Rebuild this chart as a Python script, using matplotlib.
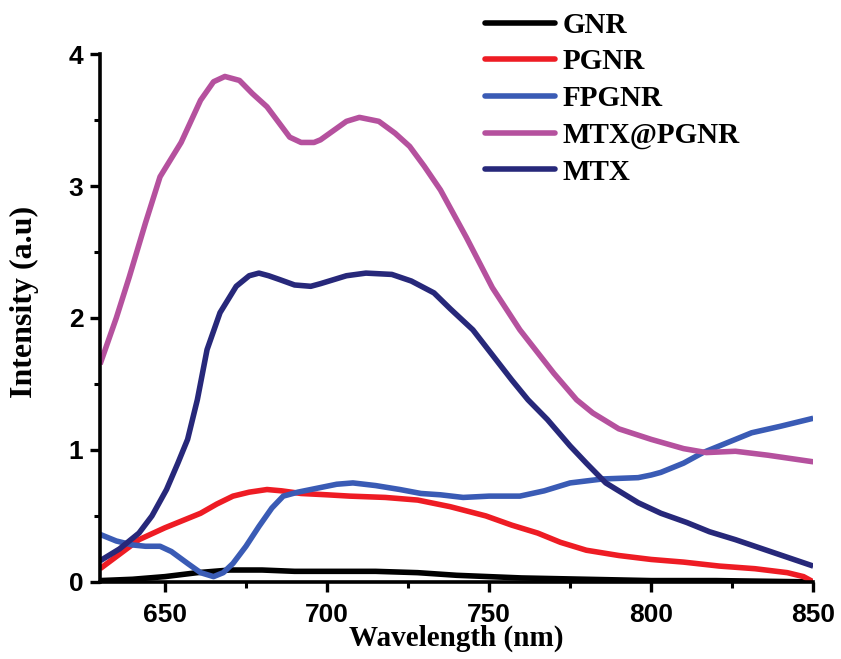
import numpy as np
import matplotlib
matplotlib.use('Agg')
import matplotlib.pyplot as plt
from matplotlib.ticker import MultipleLocator

# Datos (longitud de onda en nm, intensidad en a.u.)
wl_gnr = [630, 640, 650, 660, 670, 680, 690, 700, 715, 728, 740, 760, 780, 800, 820, 850]
int_gnr = [0.01, 0.02, 0.04, 0.07, 0.09, 0.09, 0.08, 0.08, 0.08, 0.07, 0.05, 0.03, 0.02, 0.01, 0.01, 0.0]

wl_pgnr = [630, 636, 642, 650, 655, 661, 666, 671, 676, 681.5, 686, 692, 700, 707, 718, 728,
           738, 749, 757, 765, 772, 780, 790, 800, 810, 821, 832, 842, 847, 850]
int_pgnr = [0.10, 0.21, 0.32, 0.41, 0.46, 0.52, 0.59, 0.65, 0.68, 0.70, 0.69, 0.67, 0.66, 0.65, 0.64, 0.62,
            0.57, 0.50, 0.43, 0.37, 0.30, 0.24, 0.20, 0.17, 0.15, 0.12, 0.10, 0.07, 0.04, 0.0]

wl_fpgnr = [630, 635, 640, 644, 648.5, 652, 657, 661, 665, 668, 671, 675, 679, 683, 686.5, 691,
            697, 703, 708, 715, 722.5, 729, 735, 742, 750, 759.5, 767, 775, 785, 796, 800, 803,
            810, 816, 824, 831, 840, 850]
int_fpgnr = [0.36, 0.31, 0.28, 0.27, 0.27, 0.23, 0.14, 0.07, 0.04, 0.07, 0.14, 0.27, 0.42, 0.56, 0.65, 0.68,
             0.71, 0.74, 0.75, 0.73, 0.70, 0.67, 0.66, 0.64, 0.65, 0.65, 0.69, 0.75, 0.78, 0.79, 0.81, 0.83,
             0.90, 0.98, 1.06, 1.13, 1.18, 1.24]

wl_mtxpgnr = [630, 635, 639, 644, 648.5, 655, 661, 665, 668.5, 673, 677, 681.5, 688.5, 692, 696, 698,
              702, 706, 710, 716, 721, 725.5, 730, 735, 743, 751, 759.5, 770, 777, 782, 790, 800,
              810, 817, 826, 836, 850]
int_mtxpgnr = [1.65, 2.00, 2.31, 2.72, 3.07, 3.33, 3.65, 3.79, 3.83, 3.80, 3.70, 3.60, 3.37, 3.33, 3.33, 3.35,
               3.42, 3.49, 3.52, 3.49, 3.40, 3.30, 3.15, 2.97, 2.61, 2.23, 1.91, 1.58, 1.38, 1.28, 1.16, 1.08,
               1.01, 0.98, 0.99, 0.96, 0.91]

wl_mtx = [630, 636, 642, 646, 650.5, 654, 657, 660, 663, 667, 672, 676, 679, 682, 685.5, 690,
          695, 698, 702, 706, 712, 720, 726, 733, 738, 745, 751, 757, 762, 768, 775, 780,
          786, 796, 803, 811, 818, 826, 838, 850]
int_mtx = [0.16, 0.25, 0.37, 0.50, 0.70, 0.90, 1.08, 1.38, 1.76, 2.04, 2.24, 2.32, 2.34, 2.32, 2.29, 2.25,
           2.24, 2.26, 2.29, 2.32, 2.34, 2.33, 2.28, 2.19, 2.07, 1.91, 1.72, 1.53, 1.38, 1.23, 1.03, 0.90,
           0.75, 0.60, 0.52, 0.45, 0.38, 0.32, 0.22, 0.12]

series = [
    ('GNR', wl_gnr, int_gnr, '#000000'),
    ('PGNR', wl_pgnr, int_pgnr, '#ee1c24'),
    ('FPGNR', wl_fpgnr, int_fpgnr, '#3a5bb5'),
    ('MTX@PGNR', wl_mtxpgnr, int_mtxpgnr, '#b5519e'),
    ('MTX', wl_mtx, int_mtx, '#27287a'),
]

fig = plt.figure(figsize=(8.41, 6.59), dpi=100)
ax = fig.add_axes([0.119, 0.117, 0.848, 0.801])

for name, x, y, c in series:
    ax.plot(x, y, color=c, lw=4, label=name, solid_capstyle='butt', solid_joinstyle='round')

ax.set_xlim(630, 850)
ax.set_ylim(0, 4)
ax.xaxis.set_major_locator(MultipleLocator(50))
ax.xaxis.set_minor_locator(MultipleLocator(25))
ax.yaxis.set_major_locator(MultipleLocator(1))
ax.yaxis.set_minor_locator(MultipleLocator(0.5))

for s in ['top', 'right']:
    ax.spines[s].set_visible(False)
for s in ['left', 'bottom']:
    ax.spines[s].set_linewidth(2.6)

ax.tick_params(which='major', direction='out', length=7, width=2.4)
ax.tick_params(which='minor', direction='out', length=4.5, width=2.2)
ax.tick_params(axis='x', which='major', pad=8)
ax.tick_params(axis='y', which='major', pad=5)
for lab in ax.get_xticklabels() + ax.get_yticklabels():
    lab.set_fontfamily('Liberation Sans')
    lab.set_fontweight('bold')
    lab.set_fontsize(19)

ax.set_xlabel('Wavelength (nm)', family='Liberation Serif', weight='bold', fontsize=21)
ax.set_ylabel('Intensity (a.u)', family='Liberation Serif', weight='bold', fontsize=23)
ax.xaxis.set_label_coords(0.5, -0.081)
ax.xaxis.label.set_va('top')
ax.yaxis.set_label_coords(-0.085, 0.53)

leg = ax.legend(loc='upper left', bbox_to_anchor=(0.577, 0.982), bbox_transform=fig.transFigure,
                frameon=False, borderpad=0, borderaxespad=0, handlelength=2.4,
                handletextpad=0.25, labelspacing=0.33,
                prop={'family': 'Liberation Serif', 'weight': 'bold', 'size': 21})
for h in leg.get_lines():
    h.set_linewidth(4)
    h.set_solid_capstyle('round')

fig.savefig('out.png', dpi=100)
